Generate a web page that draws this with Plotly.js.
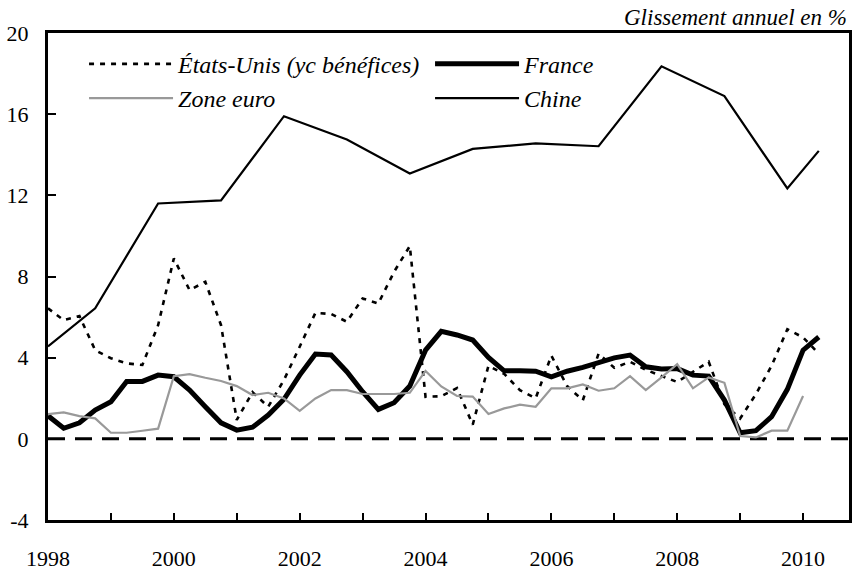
<!DOCTYPE html>
<html>
<head>
<meta charset="utf-8">
<script src="https://cdn.plot.ly/plotly-3.0.1.min.js"></script>
<style>html,body{margin:0;padding:0;background:#fff;}#chart{width:860px;height:571px;}</style>
</head>
<body>
<div id="chart"></div>
<script>
// Quarterly series, first quarter = 1998 Q1
var startYear = 1998;
var usValues = [6.43, 5.85, 6.05, 4.37, 3.97, 3.72, 3.64, 5.6, 8.89, 7.33, 7.74, 5.6,
  0.93, 2.3, 1.58, 2.9, 4.54, 6.21, 6.15, 5.77, 6.92, 6.67, 8.23, 9.5,
  2.07, 2.1, 2.5, 0.7, 3.6, 3.2, 2.4, 2.0, 4.1, 2.6, 1.9, 4.2,
  3.5, 3.8, 3.4, 3.1, 2.8, 3.3, 3.8, 1.7, 1.0, 2.2, 3.6, 5.4, 5.0, 4.2];
var franceValues = [1.14, 0.52, 0.79, 1.42, 1.83, 2.83, 2.83, 3.14, 3.06, 2.40, 1.58, 0.79,
  0.43, 0.57, 1.17, 1.95, 3.14, 4.18, 4.13, 3.31, 2.32, 1.45, 1.78, 2.60,
  4.37, 5.30, 5.12, 4.87, 4.01, 3.35, 3.35, 3.33, 3.06, 3.33, 3.52, 3.78,
  3.99, 4.13, 3.55, 3.44, 3.46, 3.14, 3.09, 1.91, 0.30, 0.40, 1.09, 2.44, 4.37, 5.02];
var euroValues = [1.22, 1.30, 1.12, 1.01, 0.30, 0.30, 0.40, 0.50, 3.09, 3.19, 3.01, 2.85,
  2.60, 2.16, 2.27, 1.99, 1.38, 1.99, 2.40, 2.40, 2.21, 2.21, 2.21, 2.27,
  3.35, 2.58, 2.11, 2.08, 1.22, 1.50, 1.68, 1.58, 2.49, 2.49, 2.68, 2.37,
  2.49, 3.09, 2.40, 3.03, 3.68, 2.49, 3.03, 2.76, 0.14, 0.07, 0.40, 0.40, 2.11];
// China: annual points (Q4) plus start and last observation
var chinaDates = [1998, 1998.75, 1999.75, 2000.75, 2001.75, 2002.75, 2003.75, 2004.75,
  2005.75, 2006.75, 2007.75, 2008.75, 2009.75, 2010.25];
var chinaValues = [4.55, 6.43, 11.6, 11.75, 15.9, 14.75, 13.08, 14.29, 14.56, 14.42,
  18.36, 16.89, 12.34, 14.19];

var seriesNames = ['États-Unis (yc bénéfices)', 'France', 'Zone euro', 'Chine'];
var yTickVals = [-4, 0, 4, 8, 12, 16, 20];
var yTickText = ['-4', '0', '4', '8', '12', '16', '20'];
var xTickVals = [1998, 1999, 2000, 2001, 2002, 2003, 2004, 2005, 2006, 2007, 2008, 2009, 2010];
var xTickText = ['1998', '', '2000', '', '2002', '', '2004', '', '2006', '', '2008', '', '2010'];
var unitLabel = 'Glissement annuel en %';

function quarters(vals) { return vals.map(function (v, i) { return startYear + i / 4; }); }

var serif = 'Liberation Serif';

var traces = [
  { x: quarters(usValues), y: usValues, name: seriesNames[0], mode: 'lines',
    line: { color: '#000', width: 2.6, dash: '5px,6px' } },
  { x: quarters(franceValues), y: franceValues, name: seriesNames[1], mode: 'lines',
    line: { color: '#000', width: 5 } },
  { x: quarters(euroValues), y: euroValues, name: seriesNames[2], mode: 'lines',
    line: { color: '#999999', width: 2.2 } },
  { x: chinaDates, y: chinaValues, name: seriesNames[3], mode: 'lines',
    line: { color: '#000', width: 2.2 } }
];

var layout = {
  width: 860, height: 571,
  margin: { l: 48, r: 11, t: 33, b: 51 },
  paper_bgcolor: '#fff', plot_bgcolor: '#fff',
  font: { family: serif, color: '#000', size: 22 },
  showlegend: true,
  legend: {
    orientation: 'h', x: 0.045, y: 0.982, xanchor: 'left', yanchor: 'top',
    bgcolor: 'rgba(0,0,0,0)', itemwidth: 84, entrywidth: 247, traceorder: 'normal',
    font: { family: serif, size: 24, style: 'italic', color: '#000' }
  },
  xaxis: {
    range: [1998, 2010.73], tickvals: xTickVals, ticktext: xTickText,
    ticks: 'inside', ticklen: 7, tickwidth: 2, tickcolor: '#000',
    showline: true, linewidth: 3, linecolor: '#000', mirror: true,
    showgrid: false, zeroline: false, ticklabelstandoff: 17,
    tickfont: { family: serif, size: 22, color: '#000' }
  },
  yaxis: {
    range: [-4, 20], tickvals: yTickVals, ticktext: yTickText,
    ticks: 'inside', ticklen: 8, tickwidth: 2, tickcolor: '#000',
    showline: true, linewidth: 3, linecolor: '#000', mirror: true,
    showgrid: false, zeroline: false, ticklabelstandoff: 12,
    tickfont: { family: serif, size: 22, color: '#000' }
  },
  shapes: [
    { type: 'line', xref: 'paper', x0: 0, x1: 1, yref: 'y', y0: 0, y1: 0,
      line: { color: '#000', width: 3, dash: '17px,10px' }, layer: 'below' }
  ],
  annotations: [
    { text: unitLabel, xref: 'paper', yref: 'paper', x: 1, y: 1, xanchor: 'right', yanchor: 'bottom',
      yshift: 1, showarrow: false, font: { family: serif, size: 23, style: 'italic', color: '#000' } }
  ]
};

Plotly.newPlot('chart', traces, layout, { displayModeBar: false, staticPlot: true });
</script>
</body>
</html>
